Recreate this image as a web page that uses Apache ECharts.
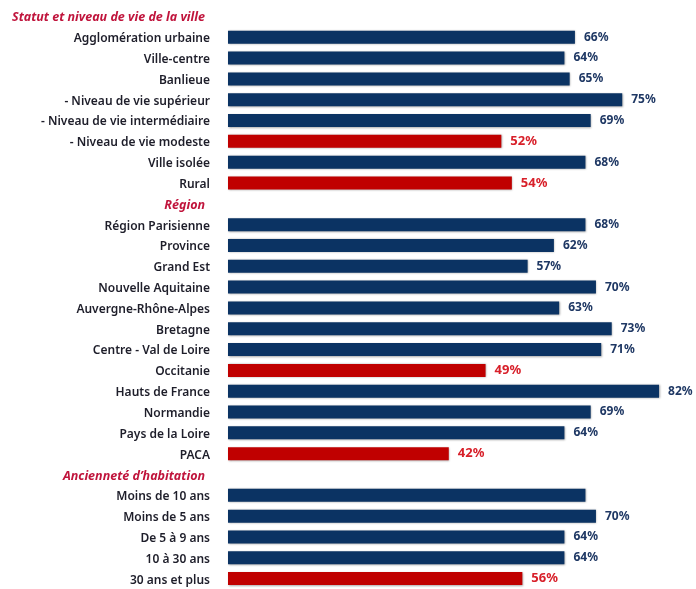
<!DOCTYPE html>
<html><head><meta charset="utf-8">
<script src="https://cdn.jsdelivr.net/npm/echarts@6/dist/echarts.min.js"></script>
<style>html,body{margin:0;padding:0;background:#fff}#c{width:696px;height:589px}</style>
</head><body><div id="c"></div>
<script>
var categories = [
  "Statut et niveau de vie de la ville",
  "Agglomération urbaine","Ville-centre","Banlieue","- Niveau de vie supérieur","- Niveau de vie intermédiaire","- Niveau de vie modeste","Ville isolée","Rural",
  "Région",
  "Région Parisienne","Province","Grand Est","Nouvelle Aquitaine","Auvergne-Rhône-Alpes","Bretagne","Centre - Val de Loire","Occitanie","Hauts de France","Normandie","Pays de la Loire","PACA",
  "Ancienneté d’habitation",
  "Moins de 10 ans","Moins de 5 ans","De 5 à 9 ans","10 à 30 ans","30 ans et plus"
];
var headers = ["Statut et niveau de vie de la ville","Région","Ancienneté d’habitation"];
var values = [
  null,
  66,64,65,75,69,52,68,54,
  null,
  68,62,57,70,63,73,71,49,82,69,64,42,
  null,
  68,70,64,64,56
];
var lowItems = ["- Niveau de vie modeste","Rural","Occitanie","PACA","30 ans et plus"];
var unlabeledItems = ["Moins de 10 ans"];

var NAVY = "#0b3363", RED = "#c00000";
var seriesData = values.map(function(v, i){
  var name = categories[i];
  var low = lowItems.indexOf(name) >= 0;
  var item = {value: v, itemStyle: {color: low ? RED : NAVY}};
  if (low) item.label = {color: "#d8202a", fontSize: 13};
  if (unlabeledItems.indexOf(name) >= 0) item.label = {show: false};
  return item;
});

var chart = echarts.init(document.getElementById('c'));
chart.setOption({
  animation: false,
  grid: {left: 228, top: 6, width: 446.8, height: 585, containLabel: false},
  xAxis: {type: 'value', min: 0, max: 85, show: false},
  yAxis: {
    type: 'category', data: categories, inverse: true,
    axisLine: {show: false}, axisTick: {show: false},
    axisLabel: {
      margin: 18,
      formatter: function(v){
        return headers.indexOf(v) >= 0 ? '{h|' + v + '}' : '{n|' + v + '}';
      },
      rich: {
        n: {fontFamily: 'Noto Sans', fontSize: 12, fontWeight: 600, color: '#1e1e2a', padding: [3, 0, 0, 0]},
        h: {fontFamily: 'Noto Sans', fontSize: 12.5, fontWeight: 700, fontStyle: 'italic', color: '#c0143c', padding: [3, 5, 0, 0]}
      }
    }
  },
  series: [{
    type: 'bar', data: seriesData, barWidth: 13,
    itemStyle: {shadowColor: 'rgba(0,0,0,0.35)', shadowBlur: 2, shadowOffsetX: 0.5, shadowOffsetY: 0.5},
    label: {
      show: true, position: 'right', distance: 9,
      formatter: '{c}%',
      fontFamily: 'Noto Sans', fontSize: 12, fontWeight: 700, color: '#1f3864'
    }
  }]
});
</script></body></html>
